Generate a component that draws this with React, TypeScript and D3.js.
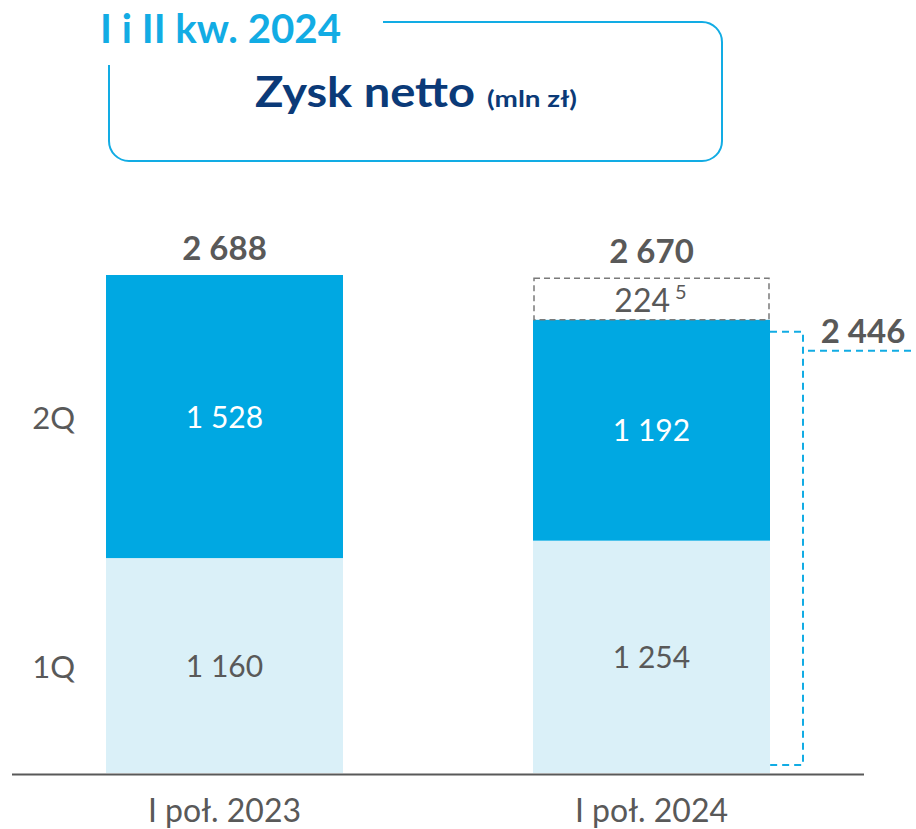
import React from "react";
import * as d3 from "d3";

const categories = ["I poł. 2023", "I poł. 2024"];
const q1Values = [1160, 1254];
const q2Values = [1528, 1192];
const totals = [2688, 2670];
const extraValues = [0, 224];
const adjustedTotal = 2446;
const seriesLabels = ["1Q", "2Q"];
const headerText = "I i II kw. 2024";
const titleText = "Zysk netto";
const unitText = "(mln zł)";

const W = 916;
const H = 829;
const FONT = "Lato, 'Open Sans', sans-serif";
const GRAY = "#595959";
const C2 = "#00a8e2";
const C1 = "#daf0f8";
const CYAN = "#12ace4";
const NAVY = "#0b3a78";

const fmt = (v: number) => {
  const s = String(v);
  return s.length > 3 ? s.slice(0, s.length - 3) + " " + s.slice(-3) : s;
};

export default function App() {
  const x = d3.scaleBand<string>().domain(categories).range([106, 770]).paddingInner(190 / 427).paddingOuter(0);
  const bw = x.bandwidth();
  const y = d3.scaleLinear().domain([0, 2688]).range([773, 275]);

  const xb = x(categories[1]) ?? 533;
  const bracketTop = y(adjustedTotal) + 12;
  const bracketBottom = y(0) - 8;

  return (
    <svg width={W} height={H} style={{ position: "absolute", left: 0, top: 0, background: "#fff" }} fontFamily={FONT}>
      {/* header frame */}
      <path
        d="M383,22 H702 A20,20 0 0 1 722,42 V141 A20,20 0 0 1 702,161 H129 A20,20 0 0 1 109,141 V65"
        fill="none"
        stroke={CYAN}
        strokeWidth={2}
      />
      <text x={100} y={43} fontSize={40} fontWeight={700} fill={CYAN} textLength={241} lengthAdjust="spacingAndGlyphs">
        {headerText}
      </text>
      <text x={255} y={107} fontSize={42} fontWeight={700} fill={NAVY} textLength={220} lengthAdjust="spacingAndGlyphs">
        {titleText}
      </text>
      <text x={487} y={107} fontSize={22} fontWeight={700} fill={NAVY} textLength={90} lengthAdjust="spacingAndGlyphs">
        {unitText}
      </text>

      {/* bars */}
      {categories.map((c, i) => {
        const bx = x(c) ?? 0;
        const cx = bx + bw / 2;
        const yq1 = y(q1Values[i]);
        const yq2 = y(q1Values[i] + q2Values[i]);
        return (
          <g key={c}>
            <rect x={bx} y={yq1} width={bw} height={y(0) - yq1} fill={C1} />
            <rect x={bx} y={yq2} width={bw} height={yq1 - yq2} fill={C2} />
            <text x={cx} y={(yq1 + y(0)) / 2 + 11} textAnchor="middle" fontSize={30} fill={GRAY}>
              {fmt(q1Values[i])}
            </text>
            <text x={cx} y={(yq2 + yq1) / 2 + 11} textAnchor="middle" fontSize={30} fill="#fff">
              {fmt(q2Values[i])}
            </text>
            {extraValues[i] > 0 && (
              <g>
                <rect
                  x={bx + 1}
                  y={y(totals[i])}
                  width={bw - 2}
                  height={yq2 - y(totals[i])}
                  fill="none"
                  stroke="#7a7a7a"
                  strokeWidth={1.5}
                  strokeDasharray="6,4"
                />
                <text x={cx - 1} y={y(totals[i]) + 34} textAnchor="middle" fontSize={32} fill={GRAY}>
                  {extraValues[i]}
                  <tspan dx={5} dy={-13} fontSize={20}>5</tspan>
                </text>
              </g>
            )}
            <text x={cx} y={y(totals[i]) - 15} textAnchor="middle" fontSize={33} fontWeight={700} fill={GRAY}>
              {fmt(totals[i])}
            </text>
            <text x={cx} y={822} textAnchor="middle" fontSize={32} fill={GRAY}>
              {c}
            </text>
          </g>
        );
      })}

      {/* series labels */}
      <text x={75} y={(y(q1Values[0]) + y(totals[0])) / 2 + 12} textAnchor="end" fontSize={31} fill={GRAY}>
        {seriesLabels[1]}
      </text>
      <text x={75} y={(y(0) + y(q1Values[0])) / 2 + 12} textAnchor="end" fontSize={31} fill={GRAY}>
        {seriesLabels[0]}
      </text>

      {/* bracket */}
      <path
        d={`M${xb + bw},${bracketTop} H803 V${bracketBottom} H${xb + bw}`}
        fill="none"
        stroke={CYAN}
        strokeWidth={2}
        strokeDasharray="7,5"
      />
      <line x1={808} x2={916} y1={bracketTop + 19} y2={bracketTop + 19} stroke={CYAN} strokeWidth={2} strokeDasharray="7,5" />
      <text x={863} y={bracketTop + 11} textAnchor="middle" fontSize={33} fontWeight={700} fill={GRAY}>
        {fmt(adjustedTotal)}
      </text>

      {/* axis */}
      <line x1={12} x2={864} y1={774.5} y2={774.5} stroke={GRAY} strokeWidth={2} />
    </svg>
  );
}
